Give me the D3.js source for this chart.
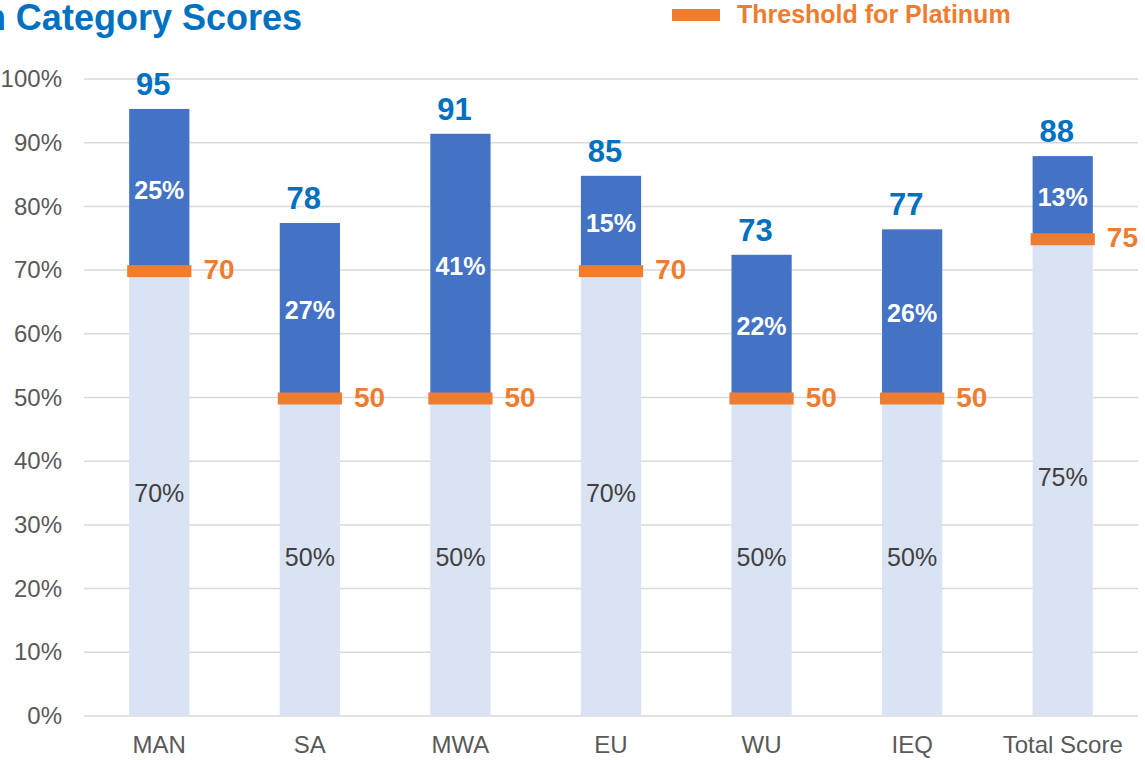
<!DOCTYPE html>
<html>
<head>
<meta charset="utf-8">
<script src="https://cdn.jsdelivr.net/npm/d3@7"></script>
<style>
  body { margin: 0; background: #fff; overflow: hidden; }
  text { font-family: "Liberation Sans", Arial, sans-serif; }
</style>
</head>
<body>
<div id="chart"></div>
<script>
// data
var categories = ["MAN", "SA", "MWA", "EU", "WU", "IEQ", "Total Score"];
var thresholds = [70, 50, 50, 70, 50, 50, 75];
var gains = [25.3, 27.4, 41.4, 14.8, 22.4, 26.4, 12.9];
var scoreLabels = [95, 78, 91, 85, 73, 77, 88];
var yTicks = [0, 10, 20, 30, 40, 50, 60, 70, 80, 90, 100];

var rows = categories.map(function(c, i) {
  return { cat: c, base: thresholds[i], gain: gains[i], score: scoreLabels[i] };
});

var width = 1145, height = 760;
var colors = {
  base: '#DAE3F3',
  gain: '#4472C4',
  marker: '#ED7D31',
  score: '#0070C0',
  grid: '#D9D9D9',
  text: '#595959'
};

var svg = d3.select('#chart')
  .append('svg')
  .attr('width', width)
  .attr('height', height);

var x = d3.scaleBand()
  .domain(categories)
  .range([84, 1138])
  .paddingInner(0.6)
  .paddingOuter(0.3);

var y = d3.scaleLinear()
  .domain([0, 100])
  .range([716, 79]);

// gridlines
svg.append('g')
  .selectAll('line')
  .data(yTicks)
  .enter().append('line')
    .attr('x1', 84)
    .attr('x2', 1138)
    .attr('y1', function(d) { return y(d); })
    .attr('y2', function(d) { return y(d); })
    .attr('stroke', colors.grid)
    .attr('stroke-width', 1.5);

// y axis labels
var yAxis = svg.append('g')
  .attr('transform', 'translate(84,0)')
  .call(d3.axisLeft(y).tickValues(yTicks).tickSize(0).tickPadding(22)
    .tickFormat(function(d) { return d + '%'; }));
yAxis.select('.domain').remove();
yAxis.selectAll('text')
  .attr('fill', colors.text)
  .style('font-size', '24px')
  .style('font-family', '"Liberation Sans", Arial, sans-serif');

// x axis labels
var xAxis = svg.append('g')
  .attr('transform', 'translate(0,716)')
  .call(d3.axisBottom(x).tickSize(0).tickPadding(20));
xAxis.select('.domain').remove();
xAxis.selectAll('text')
  .attr('fill', colors.text)
  .style('font-size', '24px')
  .style('font-family', '"Liberation Sans", Arial, sans-serif');

// base segment (threshold)
svg.append('g')
  .selectAll('rect')
  .data(rows)
  .enter().append('rect')
    .attr('x', function(d) { return x(d.cat); })
    .attr('width', x.bandwidth())
    .attr('y', function(d) { return y(d.base); })
    .attr('height', function(d) { return y(0) - y(d.base); })
    .attr('fill', colors.base);

// gain segment above threshold
svg.append('g')
  .selectAll('rect')
  .data(rows)
  .enter().append('rect')
    .attr('x', function(d) { return x(d.cat); })
    .attr('width', x.bandwidth())
    .attr('y', function(d) { return y(d.base + d.gain); })
    .attr('height', function(d) { return y(d.base) - y(d.base + d.gain); })
    .attr('fill', colors.gain);

// threshold markers
svg.append('g')
  .selectAll('rect')
  .data(rows)
  .enter().append('rect')
    .attr('x', function(d) { return x(d.cat) - 2; })
    .attr('width', x.bandwidth() + 4)
    .attr('y', function(d) { return y(d.base) - 5; })
    .attr('height', 12)
    .attr('fill', colors.marker);

// threshold value labels
svg.append('g')
  .selectAll('text')
  .data(rows)
  .enter().append('text')
    .attr('x', function(d) { return x(d.cat) + x.bandwidth() + 14; })
    .attr('y', function(d) { return y(d.base) + 9; })
    .attr('fill', colors.marker)
    .style('font-size', '28px')
    .style('font-weight', 'bold')
    .text(function(d) { return d.base; });

// labels inside base
svg.append('g')
  .selectAll('text')
  .data(rows)
  .enter().append('text')
    .attr('x', function(d) { return x(d.cat) + x.bandwidth() / 2; })
    .attr('y', function(d) { return y(d.base / 2); })
    .attr('dy', '0.36em')
    .attr('text-anchor', 'middle')
    .attr('fill', '#404040')
    .style('font-size', '25px')
    .text(function(d) { return d.base + '%'; });

// labels inside gain
svg.append('g')
  .selectAll('text')
  .data(rows)
  .enter().append('text')
    .attr('x', function(d) { return x(d.cat) + x.bandwidth() / 2; })
    .attr('y', function(d) { return y(d.base + d.gain / 2); })
    .attr('dy', '0.36em')
    .attr('text-anchor', 'middle')
    .attr('fill', '#fff')
    .style('font-size', '25px')
    .style('font-weight', 'bold')
    .text(function(d) { return Math.round(d.gain) + '%'; });

// total score labels
svg.append('g')
  .selectAll('text')
  .data(rows)
  .enter().append('text')
    .attr('x', function(d) { return x(d.cat) + x.bandwidth() / 2 - 6; })
    .attr('y', function(d) { return y(d.base + d.gain) - 14; })
    .attr('text-anchor', 'middle')
    .attr('fill', colors.score)
    .style('font-size', '31px')
    .style('font-weight', 'bold')
    .text(function(d) { return d.score; });

// title (cut off on the left, as in the picture)
svg.append('text')
  .attr('x', 302)
  .attr('y', 30)
  .attr('text-anchor', 'end')
  .attr('fill', colors.score)
  .style('font-size', '36px')
  .style('font-weight', 'bold')
  .text('Certification Category Scores');

// legend
var legend = svg.append('g');
legend.append('rect')
  .attr('x', 672)
  .attr('y', 9)
  .attr('width', 48)
  .attr('height', 12)
  .attr('fill', colors.marker);
legend.append('text')
  .attr('x', 737)
  .attr('y', 23)
  .attr('fill', colors.marker)
  .style('font-size', '25px')
  .style('font-weight', 'bold')
  .text('Threshold for Platinum');
</script>
</body>
</html>
